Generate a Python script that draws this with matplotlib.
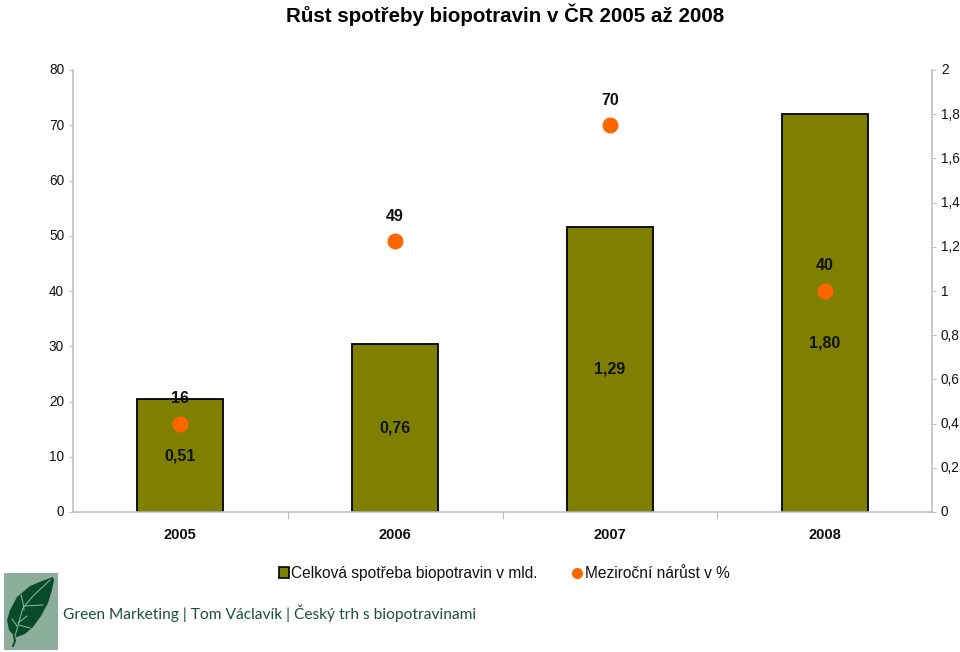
import matplotlib
matplotlib.use("Agg")
import matplotlib.pyplot as plt
from matplotlib.patches import Polygon, Rectangle
from matplotlib.lines import Line2D
from matplotlib.transforms import ScaledTranslation

years = ["2005", "2006", "2007", "2008"]
consumption = [0.51, 0.76, 1.29, 1.80]
consumption_labels = ["0,51", "0,76", "1,29", "1,80"]
growth = [16, 49, 70, 40]
growth_labels = ["16", "49", "70", "40"]
left_ticks = list(range(0, 90, 10))
right_ticks = [0, 0.2, 0.4, 0.6, 0.8, 1, 1.2, 1.4, 1.6, 1.8, 2]
right_tick_labels = ["0", "0,2", "0,4", "0,6", "0,8", "1", "1,2", "1,4", "1,6", "1,8", "2"]

OLIVE = "#808000"
ORANGE = "#FF6600"
AXIS = "#C0C0C0"
W, H = 960, 652
plt.rcParams["font.family"] = ["Liberation Sans", "DejaVu Sans"]

fig = plt.figure(figsize=(W / 100, H / 100), dpi=100)
ax = fig.add_axes([73 / W, 1 - 512 / H, (932 - 73) / W, (512 - 70) / H])
ax2 = ax.twinx()
x = list(range(4))

ax2.bar(x, consumption, width=0.4, color=OLIVE, edgecolor="black", linewidth=1.3, zorder=2)
ax2.set_ylim(0, 2)
ax2.set_yticks(right_ticks, right_tick_labels)
ax.set_xlim(-0.5, 3.5)
ax.set_ylim(0, 80)
ax.set_yticks(left_ticks)
ax.set_xticks([0.5, 1.5, 2.5], [""] * 3)

ax.set_zorder(ax2.get_zorder() + 1)
ax.patch.set_visible(False)
ax.plot(x, growth, linestyle="none", marker="o", markersize=11.5, color=ORANGE, markeredgewidth=0, zorder=3)

for xi, v, lab in zip(x, growth, growth_labels):
    ax.annotate(lab, (xi, v), xytext=(0, 25), textcoords="offset pixels", ha="center", va="center",
                fontsize=11.5, fontweight="bold", color="#111111")
for xi, v, lab in zip(x, consumption, consumption_labels):
    yv = v / 2
    if lab == "1,80":
        yv = 0.765  # label moved down in the original
    ax2.text(xi, yv, lab, ha="center", va="center", fontsize=11.5, fontweight="bold", color="#111111", zorder=4)

for a in (ax, ax2):
    a.spines["top"].set_visible(False)
    for s in a.spines.values():
        s.set_color(AXIS)
        s.set_linewidth(1.2)
    a.tick_params(axis="y", length=3, width=0.8, color=AXIS, labelsize=9.8, labelcolor="#111111", pad=3.4)
    for lab in a.get_yticklabels():
        lab.set_transform(lab.get_transform() + ScaledTranslation(0, 1 / 100, fig.dpi_scale_trans))
ax.tick_params(axis="x", length=5, width=0.8, color=AXIS, direction="out")
ax2.spines["left"].set_visible(False)
ax2.spines["bottom"].set_visible(False)
ax2.spines["right"].set_visible(True)
ax.spines["right"].set_visible(False)

for xi, y in zip(x, years):
    fig.text((73 + (xi + 0.5) * (932 - 73) / 4) / W, 1 - 535 / H, y, ha="center", va="center",
             fontsize=10.5, fontweight="bold", color="#111111")

fig.text(505 / W, 1 - 15 / H, "Růst spotřeby biopotravin v ČR 2005 až 2008", ha="center", va="center",
         fontsize=14.75, fontweight="bold", color="black")

# legend
fig.add_artist(Rectangle((278.5 / W, 1 - 578 / H), 10 / W, 11 / H, transform=fig.transFigure,
                         facecolor=OLIVE, edgecolor="black", linewidth=1.2))
fig.text(291 / W, 1 - 573.5 / H, "Celková spotřeba biopotravin v mld.", ha="left", va="center", fontsize=11.2, color="#111111")
fig.add_artist(Line2D([577 / W], [1 - 572.5 / H], transform=fig.transFigure, marker="o", markersize=8,
                      color=ORANGE, markeredgewidth=0, linestyle="none"))
fig.text(585 / W, 1 - 573.5 / H, "Meziroční nárůst v %", ha="left", va="center", fontsize=11.2, color="#111111")

# footer
fig.text(63 / W, 1 - 613.5 / H, "Green Marketing | Tom Václavík | Český trh s biopotravinami", ha="left", va="center",
         fontsize=11.15, family=["Lato", "DejaVu Sans"], color="#1C4F3F")

# logo
logo = fig.add_axes([4 / W, 1 - 650 / H, 54 / W, 77 / H])
logo.set_xlim(4, 58)
logo.set_ylim(650, 573)
logo.axis("off")
logo.add_patch(Rectangle((4, 573), 54, 77, facecolor="#8DAE9B", edgecolor="none"))
logo.add_patch(Polygon([(53, 577), (42, 581), (30, 586), (17, 597), (10, 610), (7, 620), (9, 630), (14, 636),
                        (17, 637), (25, 634), (33, 627), (41, 616), (48, 603), (52, 590), (54, 580)],
                       closed=True, facecolor="#0A4A2C", edgecolor="none"))
logo.plot([14, 15, 13], [636, 641, 646], color="#0A4A2C", linewidth=1.4)
for seg in ([(15, 636), (20, 618), (23, 608), (33, 596), (50, 580)], [(21, 595), (23, 603), (24, 610)],
            [(24, 606), (43, 605)], [(18, 623), (27, 616)], [(17, 626), (12, 619)], [(19, 625), (30, 628)]):
    logo.plot(*zip(*seg), color="#8CC09C", linewidth=0.7)

fig.savefig("out.png", dpi=100)
